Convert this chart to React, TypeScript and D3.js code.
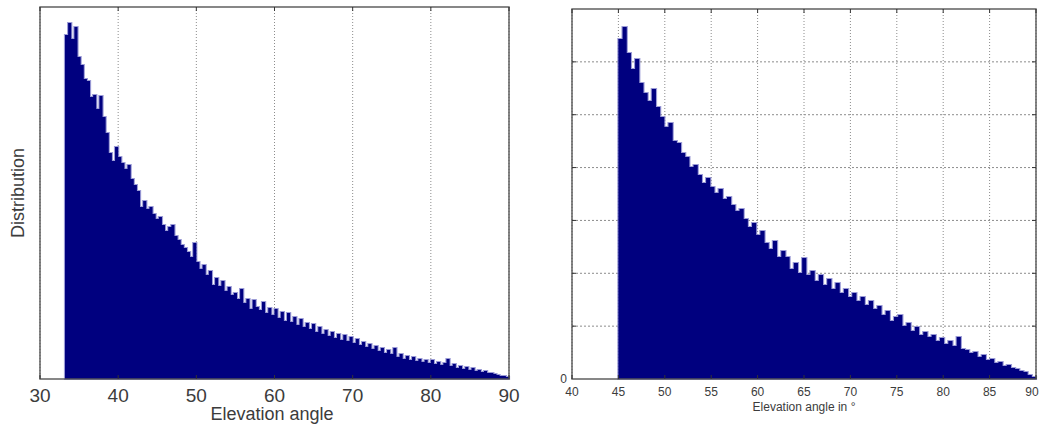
import React from "react";
import * as d3 from "d3";

const W = 1041;
const H = 427;

// Left histogram: elevation angle counts, 0.4° bins starting at 33.2°
const leftStart = 33.2;
const leftBinWidth = 0.4;
const leftCounts = [
  344, 356, 340, 352, 322, 314, 300, 298, 282, 284,
  270, 283, 262, 246, 226, 218, 232, 222, 216, 210,
  214, 200, 194, 188, 172, 178, 170, 172, 165, 160,
  162, 154, 148, 152, 154, 143, 139, 134, 131, 127,
  122, 136, 117, 110, 114, 104, 108, 94, 101, 93,
  98, 88, 92, 84, 86, 80, 90, 76, 80, 70,
  79, 72, 69, 77, 66, 71, 64, 70, 61, 67,
  58, 66, 57, 62, 54, 60, 52, 56, 50, 55,
  47, 52, 45, 49, 43, 47, 41, 45, 39, 44,
  38, 42, 36, 40, 34, 37, 32, 35, 30, 33,
  28, 31, 26, 29, 25, 31, 22, 25, 20, 23,
  19, 22, 18, 20, 17, 19, 16, 19, 15, 17,
  14, 16, 20, 13, 15, 11, 13, 10, 12, 9,
  11, 8, 9, 7, 8, 6, 6, 5, 4, 3,
  3, 2,
];
const leftYMax = 372;
const leftXTicks = [30, 40, 50, 60, 70, 80, 90];

// Right histogram: elevation angle counts, 0.45° bins starting at 45°
const rightStart = 45;
const rightBinWidth = 0.45;
const rightCounts = [
  340, 352, 326, 310, 320, 296, 286, 278, 290, 272,
  262, 252, 256, 238, 236, 226, 222, 212, 214, 204,
  196, 201, 192, 186, 190, 180, 182, 174, 168, 170,
  160, 152, 156, 144, 148, 136, 130, 138, 122, 128,
  122, 110, 116, 106, 121, 104, 108, 98, 104, 94,
  100, 90, 96, 86, 90, 82, 86, 78, 82, 74,
  78, 70, 73, 64, 68, 58, 62, 64, 53, 56,
  48, 52, 44, 47, 42, 44, 38, 41, 35, 38,
  33, 42, 30, 29, 26, 27, 22, 24, 19, 20,
  16, 17, 13, 14, 11, 10, 8, 7, 4, 2,
];
const rightYMax = 370;
const rightYDivisions = 7;
const rightXTicks = [40, 45, 50, 55, 60, 65, 70, 75, 80, 85, 90];

const NAVY = "#00007f";
const HALO = "#7a7ac8";
const FRAME = "#555555";
const GRID = "#8c8c8c";
const TEXT = "#3c3c3c";
const FONT = "'Liberation Sans', Arial, sans-serif";

type PanelProps = {
  x0: number;
  x1: number;
  y0: number;
  y1: number;
  xDomain: [number, number];
  xTicks: number[];
  yMax: number;
  yGrid: number[];
  start: number;
  binWidth: number;
  counts: number[];
};

function Histogram(p: PanelProps) {
  const x = d3.scaleLinear().domain(p.xDomain).range([p.x0, p.x1]);
  const y = d3.scaleLinear().domain([0, p.yMax]).range([p.y1, p.y0]);

  const pts: [number, number][] = p.counts.map((c, i) => [p.start + i * p.binWidth, c]);
  pts.push([p.start + p.counts.length * p.binWidth, p.counts[p.counts.length - 1]]);

  const area = d3
    .area<[number, number]>()
    .x((d) => x(d[0]))
    .y0(y(0))
    .y1((d) => y(d[1]))
    .curve(d3.curveStepAfter);
  const d = area(pts) || "";

  const tickLen = 4;
  return (
    <g>
      {/* vertical grid */}
      {p.xTicks.map((t) => (
        <line
          key={"gx" + t}
          x1={x(t)}
          x2={x(t)}
          y1={p.y0}
          y2={p.y1}
          stroke={GRID}
          strokeWidth={1}
          strokeDasharray="1,2"
        />
      ))}
      {/* horizontal grid */}
      {p.yGrid.map((v) => (
        <line
          key={"gy" + v}
          x1={p.x0}
          x2={p.x1}
          y1={y(v)}
          y2={y(v)}
          stroke={GRID}
          strokeWidth={1}
          strokeDasharray="2,2"
        />
      ))}
      {/* histogram body with a soft outline */}
      <path d={d} fill="none" stroke={HALO} strokeWidth={2.2} strokeOpacity={0.75} />
      <path d={d} fill={NAVY} />
      {/* frame */}
      <rect
        x={p.x0}
        y={p.y0}
        width={p.x1 - p.x0}
        height={p.y1 - p.y0}
        fill="none"
        stroke={FRAME}
        strokeWidth={1.4}
      />
      {/* tick marks */}
      {p.xTicks.map((t) => (
        <g key={"tx" + t}>
          <line x1={x(t)} x2={x(t)} y1={p.y1} y2={p.y1 - tickLen} stroke="#333" strokeWidth={1} />
          <line x1={x(t)} x2={x(t)} y1={p.y0} y2={p.y0 + tickLen} stroke="#333" strokeWidth={1} />
        </g>
      ))}
      {p.yGrid.map((v) => (
        <g key={"ty" + v}>
          <line x1={p.x0} x2={p.x0 + tickLen} y1={y(v)} y2={y(v)} stroke="#333" strokeWidth={1} />
          <line x1={p.x1} x2={p.x1 - tickLen} y1={y(v)} y2={y(v)} stroke="#333" strokeWidth={1} />
        </g>
      ))}
    </g>
  );
}

export default function App() {
  const lx = d3.scaleLinear().domain([30, 90]).range([40, 509]);
  const rx = d3.scaleLinear().domain([40, 90]).range([572, 1036]);
  const rightGrid = d3.range(1, rightYDivisions).map((i) => (i * rightYMax) / rightYDivisions);

  return (
    <svg
      width={W}
      height={H}
      viewBox={`0 0 ${W} ${H}`}
      style={{ position: "absolute", left: 0, top: 0, background: "#fff" }}
    >
      <rect width={W} height={H} fill="#fff" />

      <Histogram
        x0={40}
        x1={509}
        y0={7}
        y1={379}
        xDomain={[30, 90]}
        xTicks={leftXTicks}
        yMax={leftYMax}
        yGrid={[]}
        start={leftStart}
        binWidth={leftBinWidth}
        counts={leftCounts}
      />
      {leftXTicks.map((t) => (
        <text
          key={"lt" + t}
          x={lx(t)}
          y={402}
          textAnchor="middle"
          fontFamily={FONT}
          fontSize={19}
          fill={TEXT}
        >
          {t}
        </text>
      ))}
      <text x={272} y={420} textAnchor="middle" fontFamily={FONT} fontSize={18} fill={TEXT}>
        Elevation angle
      </text>
      <text
        transform="translate(24,193) rotate(-90)"
        textAnchor="middle"
        fontFamily={FONT}
        fontSize={18}
        fill={TEXT}
      >
        Distribution
      </text>

      <Histogram
        x0={572}
        x1={1036}
        y0={9}
        y1={379}
        xDomain={[40, 90]}
        xTicks={rightXTicks}
        yMax={rightYMax}
        yGrid={rightGrid}
        start={rightStart}
        binWidth={rightBinWidth}
        counts={rightCounts}
      />
      {rightXTicks.map((t) => (
        <text
          key={"rt" + t}
          x={t === 90 ? rx(t) - 4 : rx(t)}
          y={396}
          textAnchor="middle"
          fontFamily={FONT}
          fontSize={12}
          fill={TEXT}
        >
          {t}
        </text>
      ))}
      <text x={567} y={383} textAnchor="end" fontFamily={FONT} fontSize={12} fill={TEXT}>
        0
      </text>
      <text x={804} y={411} textAnchor="middle" fontFamily={FONT} fontSize={12} fill={TEXT}>
        Elevation angle in °
      </text>
    </svg>
  );
}
